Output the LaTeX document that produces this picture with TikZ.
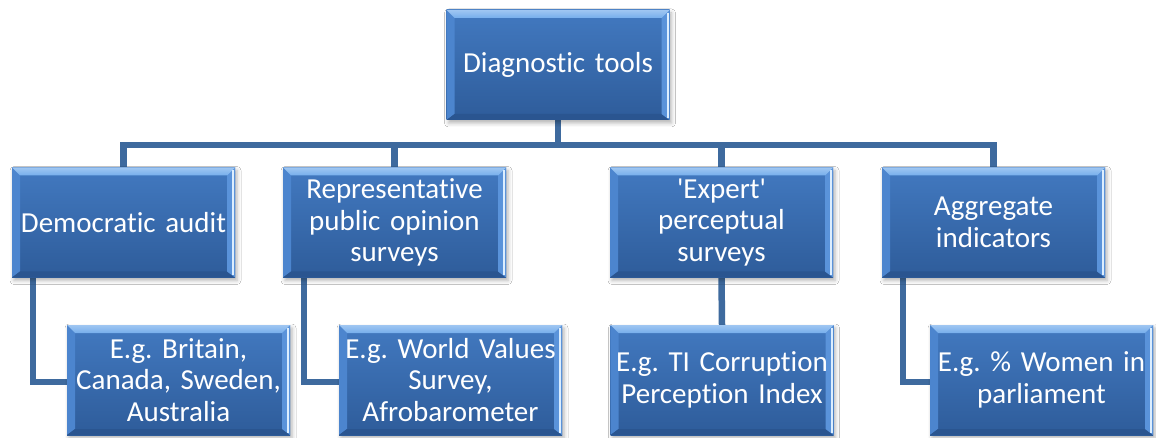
\documentclass[tikz,border=0pt]{standalone}
\usepackage{fontspec}
\setmainfont{Carlito}[Ligatures={NoCommon}, RawFeature={-liga;-clig;-calt;-dlig}]
\usetikzlibrary{shadows.blur,backgrounds,calc}
\definecolor{boxtop}{HTML}{4279C0}
\definecolor{boxbot}{HTML}{2E5C9A}
\definecolor{bevtop}{HTML}{76AEEC}
\definecolor{bevleft}{HTML}{4C85CE}
\definecolor{bevright}{HTML}{5A93DA}
\definecolor{bevbot}{HTML}{2A5590}
\definecolor{hilite}{HTML}{DCEEFF}
\definecolor{linkc}{HTML}{3E6A9E}
\frenchspacing
\tikzset{
  dbox/.style={minimum width=223pt, minimum height=110pt, inner sep=0pt,
    text width=220pt, align=center, text=white,
    font=\fontsize{29}{31.8}\selectfont,
    top color=boxtop, bottom color=boxbot,
    blur shadow={shadow xshift=2pt, shadow yshift=-3pt, shadow blur radius=4pt, shadow opacity=30},
    path picture={
      \path (path picture bounding box.north west) coordinate (pnw)
            (path picture bounding box.north east) coordinate (pne)
            (path picture bounding box.south west) coordinate (psw)
            (path picture bounding box.south east) coordinate (pse);
      \fill[bevleft] (pnw) -- ([xshift=8pt,yshift=-8pt]pnw) -- ([xshift=8pt,yshift=6pt]psw) -- (psw) -- cycle;
      \fill[bevbot] (psw) -- ([xshift=8pt,yshift=6pt]psw) -- ([xshift=-8pt,yshift=6pt]pse) -- (pse) -- cycle;
      \fill[bevright] (pne) -- ([xshift=-8pt,yshift=-8pt]pne) -- ([xshift=-8pt,yshift=6pt]pse) -- (pse) -- cycle;
      \shade[top color=bevtop!70!white, bottom color=bevtop] (pnw) -- (pne) -- ([xshift=-8pt,yshift=-8pt]pne) -- ([xshift=8pt,yshift=-8pt]pnw) -- cycle;
      \draw[hilite, line width=2pt] ([xshift=-2pt,yshift=-3pt]pne) -- ([xshift=-2pt,yshift=2pt]pse);
    }},
  link/.style={draw=linkc, line width=6.5pt, line cap=rect, line join=miter}
}
\begin{document}
\begin{tikzpicture}[x=1pt,y=-1pt]
\useasboundingbox (0,0) rectangle (1156,438);
\node[dbox] (top) at (558,65) {Diagnost\kern0pt ic tools};
\node[dbox] (d1) at (123.5,222.5) {Democrat\kern0pt ic audit};
\node[dbox] (d2) at (394.5,222.5) {Representat\kern0pt ive\\public opinion\\surveys};
\node[dbox] (d3) at (721.5,222.5) {\textquotesingle Expert\textquotesingle\\perceptual\\surveys};
\node[dbox] (d4) at (993.5,222.5) {Aggregate\\indicators};
\node[dbox] (c1) at (178.5,380) {E.g. Britain,\\Canada, Sweden,\\Australia};
\node[dbox] (c2) at (450.5,380) {E.g. World Values\\Survey,\\Afrobarometer};
\node[dbox] (c3) at (722,380) {E.g. TI Corrupt\kern0pt ion\\Percept\kern0pt ion Index};
\node[dbox] (c4) at (1041.5,380) {E.g. \% Women in\\parliament};
\coordinate (busL) at (123.5,145);
\coordinate (busR) at (993.5,145);
\begin{pgfonlayer}{background}
\fill[white] (0,0) rectangle (1156,438);
\draw[link] (top.south) -- (top.south |- busL);
\draw[link] (busL) -- (busR);
\draw[link] (d1.north) -- (d1.north |- busL);
\draw[link] (d2.north) -- (d2.north |- busL);
\draw[link] (d3.north) -- (d3.north |- busL);
\draw[link] (d4.north) -- (d4.north |- busL);
\draw[link] ([xshift=21pt]d1.south west) |- ([yshift=-2pt]c1.west);
\draw[link] ([xshift=21pt]d2.south west) |- ([yshift=-2pt]c2.west);
\draw[link] (d3.south) -- (c3.north);
\draw[link] ([xshift=21pt]d4.south west) |- ([yshift=-2pt]c4.west);
\end{pgfonlayer}
\end{tikzpicture}
\end{document}
